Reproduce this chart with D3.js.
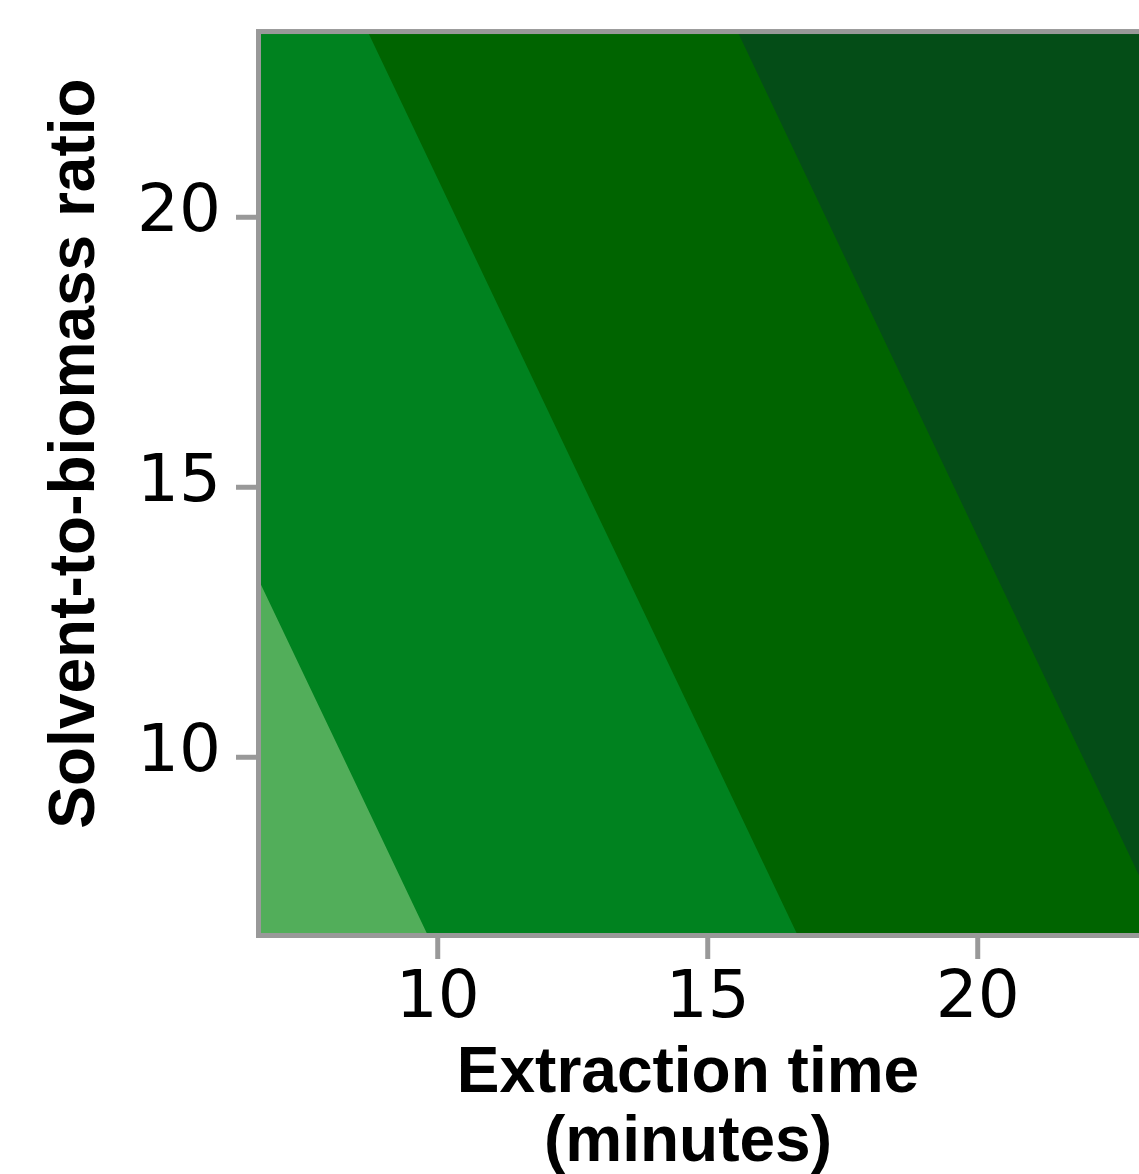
<!DOCTYPE html>
<html>
<head>
<meta charset="utf-8">
<script src="https://cdn.jsdelivr.net/npm/d3@7"></script>
<style>
  html, body { margin: 0; padding: 0; background: #fff; }
  svg { display: block; }
</style>
</head>
<body>
<svg id="chart" width="1139" height="1174"></svg>
<script>
// ---- data ----
const xGrid = [5, 10, 15, 20, 25];          // extraction time (minutes)
const yGrid = [5, 10, 15, 20, 25];          // solvent-to-biomass ratio
// response surface values, one row per yGrid entry (left→right = xGrid)
const zRow5  = [0.178, 0.908, 1.638, 2.368, 3.098];
const zRow10 = [0.525, 1.255, 1.985, 2.715, 3.445];
const zRow15 = [0.873, 1.603, 2.333, 3.063, 3.793];
const zRow20 = [1.220, 1.950, 2.680, 3.410, 4.140];
const zRow25 = [1.567, 2.297, 3.027, 3.757, 4.487];
const levels = [1, 2, 3];
const levelColors = ["#52ae5a", "#00821f", "#006400", "#044d17"];
const xTicks = [10, 15, 20];
const yTicks = [10, 15, 20];
const xDomain = [6.69, 23.43];
const yDomain = [6.69, 23.43];
const xTitle = ["Extraction time", "(minutes)"];
const yTitle = "Solvent-to-biomass ratio";

(function () {
// ---- layout ----
const svg = d3.select("#chart");
const x = d3.scaleLinear().domain(xDomain).range([258.5, 258.5 + (xDomain[1] - xDomain[0]) * 54]);
const y = d3.scaleLinear().domain(yDomain).range([935.5, 935.5 - (yDomain[1] - yDomain[0]) * 54]);

const pL = x(xDomain[0]), pR = x(xDomain[1]), pT = y(yDomain[1]), pB = y(yDomain[0]);

svg.append("defs").append("clipPath").attr("id", "plotclip")
  .append("rect").attr("x", pL).attr("y", pT).attr("width", pR - pL).attr("height", pB - pT);

const plot = svg.append("g").attr("clip-path", "url(#plotclip)");

// background = lowest level
plot.append("rect").attr("x", pL).attr("y", pT).attr("width", pR - pL).attr("height", pB - pT)
  .attr("fill", levelColors[0]);

const values = [zRow5, zRow10, zRow15, zRow20, zRow25].flat();
const contours = d3.contours().size([xGrid.length, yGrid.length]).thresholds(levels)(values);
const gx = d3.scaleLinear().domain([0, xGrid.length - 1]).range([xGrid[0], xGrid[xGrid.length - 1]]);
const gy = d3.scaleLinear().domain([0, yGrid.length - 1]).range([yGrid[0], yGrid[yGrid.length - 1]]);
const path = d3.geoPath(d3.geoTransform({
  point: function (px, py) { this.stream.point(x(gx(px - 0.5)), y(gy(py - 0.5))); }
}));
plot.selectAll("path.level").data(contours).join("path")
  .attr("class", "level")
  .attr("d", path)
  .attr("fill", (d, i) => levelColors[i + 1])
  .attr("stroke", "none");

// frame
svg.append("rect").attr("x", pL).attr("y", pT).attr("width", pR - pL).attr("height", pB - pT)
  .attr("fill", "none").attr("stroke", "#999999").attr("stroke-width", 5);

// axes
const xAxis = svg.append("g").attr("transform", `translate(0,${pB + 2.5})`)
  .call(d3.axisBottom(x).tickValues(xTicks).tickSize(21).tickPadding(0).tickFormat(d3.format("d")));
const yAxis = svg.append("g").attr("transform", `translate(${pL - 2.5},0)`)
  .call(d3.axisLeft(y).tickValues(yTicks).tickSize(20).tickPadding(0).tickFormat(d3.format("d")));
[xAxis, yAxis].forEach(a => {
  a.select(".domain").remove();
  a.selectAll(".tick line").attr("stroke", "#999999").attr("stroke-width", 5);
  a.selectAll(".tick text").attr("fill", "#000").style("font-family", "'DejaVu Sans', Verdana, sans-serif")
    .style("font-size", "66px").style("font-weight", "normal");
});
xAxis.selectAll(".tick text").attr("y", 79).attr("dy", 0);
yAxis.selectAll(".tick text").attr("x", -35).attr("dy", 0).attr("y", 13.5);

// titles
const xt = svg.append("text").attr("text-anchor", "middle")
  .style("font-family", "'Liberation Sans', Arial, Helvetica, sans-serif")
  .style("font-weight", "bold").style("font-size", "64px").attr("fill", "#000");
xt.append("tspan").attr("x", 688).attr("y", 1092).text(xTitle[0]);
xt.append("tspan").attr("x", 688).attr("y", 1161).text(xTitle[1]);

svg.append("text").attr("text-anchor", "middle")
  .attr("transform", "translate(94,453.5) rotate(-90)")
  .style("font-family", "'Liberation Sans', Arial, Helvetica, sans-serif")
  .style("font-weight", "bold").style("font-size", "64px").attr("fill", "#000")
  .text(yTitle);
})();
</script>
</body>
</html>
